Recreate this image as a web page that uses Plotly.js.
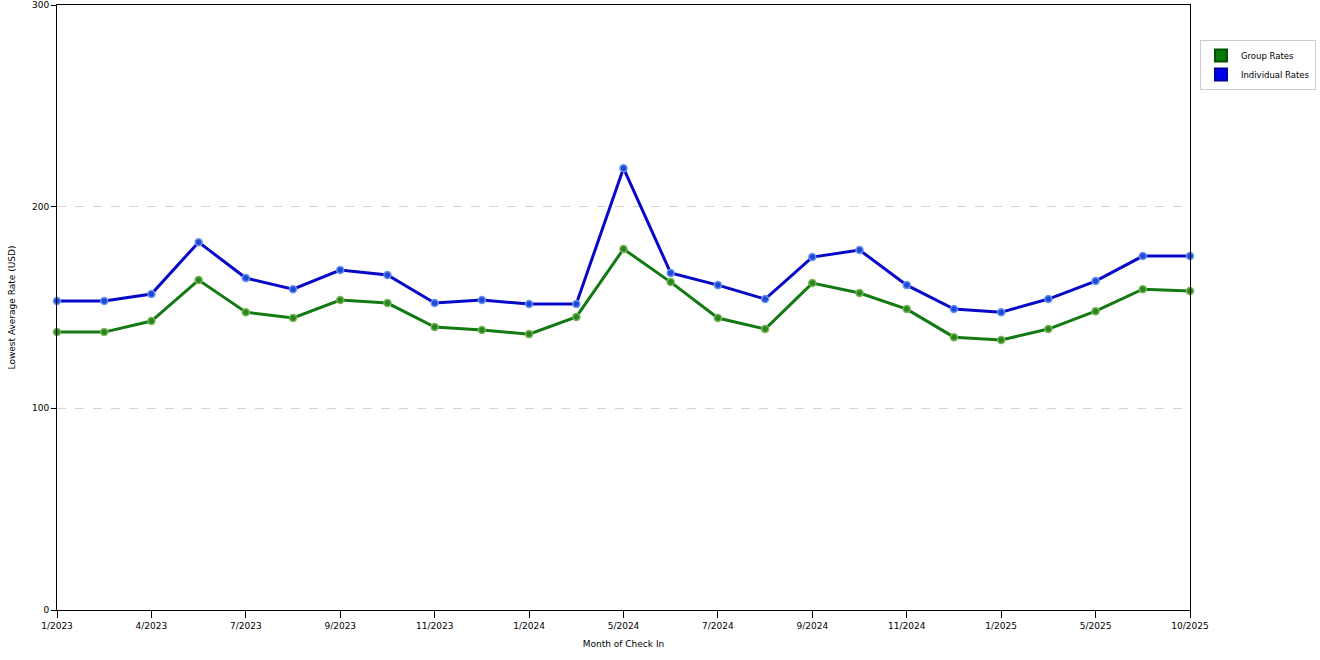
<!DOCTYPE html>
<html>
<head>
<meta charset="utf-8">
<script src="https://cdn.plot.ly/plotly-3.0.1.min.js"></script>
<style>
  html, body { margin: 0; padding: 0; background: #fff; }
  #chart { width: 1320px; height: 660px; }
</style>
</head>
<body>
<div id="chart"></div>
<script>
  // months shown on the x axis (every other one carries a label)
  var months = [
    "1/2023", "3/2023", "4/2023", "6/2023", "7/2023", "8/2023", "9/2023",
    "10/2023", "11/2023", "12/2023", "1/2024", "3/2024", "5/2024", "6/2024",
    "7/2024", "8/2024", "9/2024", "10/2024", "11/2024", "12/2024", "1/2025",
    "3/2025", "5/2025", "7/2025", "10/2025"
  ];
  var groupRates = [
    137.8, 137.8, 143.3, 163.6, 147.7, 144.8, 153.7, 152.2, 140.3, 138.8,
    136.8, 145.3, 179.0, 162.6, 144.8, 139.3, 162.1, 157.2, 149.2, 135.3,
    133.9, 139.3, 148.2, 159.1, 158.2
  ];
  var individualRates = [
    153.2, 153.2, 156.7, 182.4, 164.6, 159.1, 168.6, 166.1, 152.2, 153.7,
    151.7, 151.7, 219.1, 167.1, 161.1, 154.2, 175.0, 178.5, 161.1, 149.2,
    147.7, 154.2, 163.1, 175.5, 175.5
  ];
  var labelledMonths = months.filter(function (m, i) { return i % 2 === 0; });

  function series(name, y, lineColor, fill, edge) {
    return {
      type: "scatter",
      mode: "lines+markers",
      name: name,
      x: months,
      y: y,
      showlegend: false,
      cliponaxis: false,
      line: { color: lineColor, width: 3 },
      marker: { size: 7, color: fill, line: { color: edge, width: 1.5 } },
      hoverinfo: "x+y"
    };
  }

  function legendKey(name, fill, edge) {
    return {
      type: "scatter",
      mode: "markers",
      name: name,
      x: [null],
      y: [null],
      marker: { symbol: "square", size: 14, color: fill, line: { color: edge, width: 1 } }
    };
  }

  var data = [
    series("Group Rates", groupRates, "#137a13", "#2a8420", "#74b656"),
    series("Individual Rates", individualRates, "#0808c8", "#1f48d8", "#6a94f0"),
    legendKey("Group Rates", "#087808", "#045004"),
    legendKey("Individual Rates", "#0000f0", "#0000a0")
  ];

  var layout = {
    width: 1320,
    height: 660,
    margin: { l: 57, r: 130, t: 5, b: 50, autoexpand: false },
    paper_bgcolor: "#fff",
    plot_bgcolor: "#fff",
    font: { family: "DejaVu Sans, Verdana, sans-serif", size: 9, color: "#000" },
    showlegend: true,
    legend: {
      x: 1.0088, y: 0.942, xanchor: "left", yanchor: "top",
      bordercolor: "#cccccc", borderwidth: 1,
      font: { size: 8.5, color: "#000" },
      itemsizing: "constant",
      itemwidth: 30,
      tracegroupgap: 2
    },
    xaxis: {
      type: "category",
      range: [0, months.length - 1],
      tickmode: "array",
      tickvals: labelledMonths,
      ticktext: labelledMonths,
      ticks: "outside",
      ticklen: 7,
      tickcolor: "#000",
      showgrid: false,
      zeroline: false,
      showline: true,
      linecolor: "#000",
      linewidth: 1,
      mirror: true,
      tickfont: { size: 9 },
      title: { text: "Month of Check In", font: { size: 9 }, standoff: 10 }
    },
    yaxis: {
      range: [0, 300],
      tickmode: "array",
      tickvals: [0, 100, 200, 300],
      ticks: "outside",
      ticklen: 5,
      tickcolor: "#000",
      showgrid: true,
      gridcolor: "#d4d4d4",
      griddash: "dash",
      zeroline: false,
      showline: true,
      linecolor: "#000",
      linewidth: 1,
      mirror: true,
      tickfont: { size: 9 },
      title: { text: "Lowest Average Rate (USD)", font: { size: 9 }, standoff: 14 }
    }
  };

  Plotly.newPlot("chart", data, layout, { displayModeBar: false, staticPlot: true });
</script>
</body>
</html>
